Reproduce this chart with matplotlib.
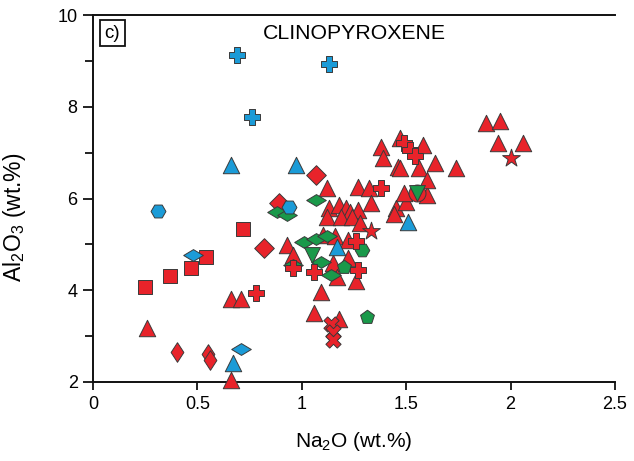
import matplotlib
matplotlib.use("Agg")
import matplotlib.pyplot as plt
from matplotlib.ticker import MultipleLocator

plt.rcParams['font.family'] = ['Liberation Sans', 'DejaVu Sans']
plt.rcParams['mathtext.fontset'] = 'custom'
plt.rcParams['mathtext.rm'] = 'Liberation Sans'

RED = '#E8232A'
BLUE = '#1B9BD7'
GREEN = '#1A994A'
EDGE = '#3a3a3a'

# red symbols (Na2O, Al2O3 in wt.%)
red_tri_x = [0.26, 0.66, 0.66, 0.71, 1.09, 1.06, 1.18, 1.38, 1.39, 1.46, 1.47, 1.58,
             1.12, 1.27, 1.32, 1.33, 1.13, 1.18, 1.21, 1.23, 1.27, 1.12, 1.19, 1.24,
             1.45, 1.44, 1.50, 1.28, 0.93, 0.96, 1.10, 1.16, 1.22, 1.15, 1.17, 1.22,
             1.26, 1.60, 1.88, 1.95, 1.94, 2.06, 1.47, 1.56, 1.64, 1.74, 1.60, 1.49]
red_tri_y = [3.18, 2.04, 3.81, 3.81, 3.96, 3.50, 3.37, 7.12, 6.88, 6.68, 7.32, 7.16,
             6.23, 6.25, 6.23, 5.90, 5.79, 5.86, 5.79, 5.70, 5.75, 5.59, 5.59, 5.59,
             5.79, 5.66, 5.92, 5.46, 4.98, 4.77, 5.20, 5.18, 5.09, 4.59, 4.29, 4.70,
             4.20, 6.07, 7.64, 7.69, 7.21, 7.21, 6.66, 6.66, 6.77, 6.66, 6.40, 6.12]

red_circ_x = [1.55]
red_circ_y = [6.12]

red_plus_x = [0.78, 1.49, 1.52, 1.54, 1.38, 1.26, 0.96, 1.06, 1.27]
red_plus_y = [3.94, 7.21, 7.05, 6.92, 6.23, 5.07, 4.48, 4.40, 4.44]

red_x_x = [1.14, 1.15, 1.15]
red_x_y = [3.26, 3.09, 2.92]

red_star_x = [2.00, 1.33]
red_star_y = [6.88, 5.29]

red_sq_x = [0.72, 0.54, 0.47, 0.37, 0.25]
red_sq_y = [5.33, 4.72, 4.48, 4.31, 4.07]

red_dia_x = [0.82, 0.89, 1.07]
red_dia_y = [4.92, 5.90, 6.51]

red_thin_x = [0.40, 0.55, 0.56]
red_thin_y = [2.65, 2.61, 2.48]

# blue symbols
blue_plus_x = [0.69, 1.13, 0.76]
blue_plus_y = [9.12, 8.93, 7.77]

blue_tri_x = [0.66, 0.97, 1.17, 1.51, 0.67]
blue_tri_y = [6.73, 6.73, 4.94, 5.49, 2.41]

blue_wide_x = [0.71, 0.48]
blue_wide_y = [2.72, 4.77]

blue_hex_x = [0.31, 0.94]
blue_hex_y = [5.73, 5.81]

# green symbols
green_wide_x = [0.88, 0.93, 1.07, 1.01, 1.07, 1.12, 0.96, 1.09, 1.14]
green_wide_y = [5.70, 5.64, 5.97, 5.05, 5.12, 5.18, 4.55, 4.61, 4.33]

green_down_x = [1.05, 1.55]
green_down_y = [4.77, 6.12]

green_hex_x = [1.29]
green_hex_y = [4.88]

green_pent_x = [1.20, 1.31]
green_pent_y = [4.51, 3.42]

wide_diamond = [(-1, 0), (0, 0.6), (1, 0), (0, -0.6), (-1, 0)]
thin_diamond = [(0, 1), (0.65, 0), (0, -1), (-0.65, 0), (0, 1)]

fig = plt.figure(figsize=(6.34, 4.61), dpi=100)
ax = fig.add_axes([0.1467, 0.1714, 0.8233, 0.796])

def pts(x, y, marker, color, s):
    ax.scatter(x, y, marker=marker, s=s, c=color, edgecolors=EDGE,
               linewidths=0.7, zorder=3, clip_on=False)

pts(red_tri_x, red_tri_y, '^', RED, 140)
pts(red_circ_x, red_circ_y, 'o', RED, 150)
pts(red_sq_x, red_sq_y, 's', RED, 105)
pts(red_dia_x, red_dia_y, 'D', RED, 100)
pts(red_thin_x, red_thin_y, thin_diamond, RED, 200)
pts(green_wide_x, green_wide_y, wide_diamond, GREEN, 200)
pts(green_down_x, green_down_y, 'v', GREEN, 130)
pts(green_hex_x, green_hex_y, 'H', GREEN, 110)
pts(green_pent_x, green_pent_y, 'p', GREEN, 110)
pts(red_plus_x, red_plus_y, 'P', RED, 135)
pts(red_x_x, red_x_y, 'X', RED, 120)
pts(red_star_x, red_star_y, '*', RED, 180)
pts(blue_plus_x, blue_plus_y, 'P', BLUE, 135)
pts(blue_tri_x, blue_tri_y, '^', BLUE, 140)
pts(blue_wide_x, blue_wide_y, wide_diamond, BLUE, 200)
pts(blue_hex_x, blue_hex_y, 'H', BLUE, 115)

ax.set_xlim(0, 2.5)
ax.set_ylim(2, 10)
ax.yaxis.set_major_locator(MultipleLocator(2))
ax.yaxis.set_minor_locator(MultipleLocator(1))
ax.set_xticks([0, 0.5, 1, 1.5, 2, 2.5])
ax.set_xticklabels(['0', '0.5', '1', '1.5', '2', '2.5'])

for side in ['left', 'bottom', 'top']:
    ax.spines[side].set_linewidth(1.4)
    ax.spines[side].set_color('#111111')
ax.spines['right'].set_visible(False)

ax.tick_params(axis='x', which='major', direction='out', length=6, width=1.3,
               labelsize=13, pad=4, color='#111111')
ax.tick_params(axis='y', which='major', direction='out', length=7, width=1.3,
               labelsize=13, pad=4, color='#111111')
ax.tick_params(axis='y', which='minor', direction='out', length=6, width=1.3,
               color='#111111')

ax.set_xlabel(r'Na$_\mathregular{2}$O (wt.%)', fontsize=15, labelpad=12)
ax.set_ylabel(r'Al$_\mathregular{2}$O$_\mathregular{3}$ (wt.%)', fontsize=16.5)
ax.yaxis.set_label_coords(-0.125, 0.45)

ax.text(0.5, 0.951, 'CLINOPYROXENE', transform=ax.transAxes, ha='center',
        va='center', fontsize=15.3)
ax.text(0.037, 0.951, 'c)', transform=ax.transAxes, ha='center', va='center',
        fontsize=13.5,
        bbox=dict(boxstyle='square,pad=0.25', fc='white', ec='#111111', lw=1.3))

fig.savefig('out.png', dpi=100)
